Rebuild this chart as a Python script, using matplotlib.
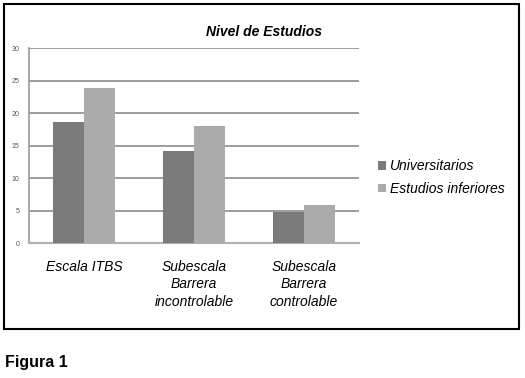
import numpy as np
import matplotlib.pyplot as plt
from matplotlib.patches import Rectangle

categories = ["Escala ITBS", "Subescala\nBarrera\nincontrolable", "Subescala\nBarrera\ncontrolable"]
universitarios = [18.6, 14.2, 4.9]
inferiores = [23.8, 18.0, 5.9]
series_names = ["Universitarios", "Estudios inferiores"]
yticks = [0, 5, 10, 15, 20, 25, 30]

plt.rcParams['font.family'] = ['Liberation Sans', 'DejaVu Sans']

fig = plt.figure(figsize=(5.25, 3.78), dpi=100)
ax = fig.add_axes([0.0552, 0.356, 0.629, 0.517])

x = np.arange(len(categories))
w = 0.28
ax.bar(x - w / 2, universitarios, w, color='#7b7b7b', label=series_names[0], zorder=3)
ax.bar(x + w / 2, inferiores, w, color='#ababab', label=series_names[1], zorder=3)

ax.set_xlim(-0.5, 2.5)
ax.set_ylim(0, 30)
ax.set_yticks(yticks)
ax.set_yticklabels([str(t) for t in yticks], fontsize=5, color='#555555')
ax.set_xticks(x)
ax.set_xticklabels(categories, fontsize=10, style='italic', linespacing=1.3)
ax.tick_params(axis='x', length=0, pad=12)
ax.tick_params(axis='y', length=0, pad=7)
ax.grid(axis='y', color='#8c8c8c', linewidth=1.2, zorder=0)
for s in ['top', 'right']:
    ax.spines[s].set_visible(False)
ax.spines['left'].set_color('#9a9a9a')
ax.spines['bottom'].set_color('#b0b0b0')
ax.spines['left'].set_linewidth(1.2)
ax.spines['bottom'].set_linewidth(1.5)

fig.text(0.502, 0.915, "Nivel de Estudios", fontsize=10, fontweight='bold',
         style='italic', ha='center', va='center')

leg = fig.legend(loc='center left', bbox_to_anchor=(0.696, 0.53), frameon=False,
                 prop={'size': 10, 'style': 'italic'}, handlelength=0.55, handleheight=0.55,
                 handletextpad=0.3, labelspacing=0.6)

fig.patches.append(Rectangle((4 / 525, 49 / 378), 515 / 525, 325 / 378, transform=fig.transFigure,
                             fill=False, edgecolor='black', linewidth=1.5))

fig.text(5 / 525, 1 - 362 / 378, "Figura 1", fontsize=11.5, fontweight='bold',
         family=['Liberation Sans Narrow', 'Liberation Sans'], ha='left', va='center')

fig.savefig("out.png", dpi=100)
